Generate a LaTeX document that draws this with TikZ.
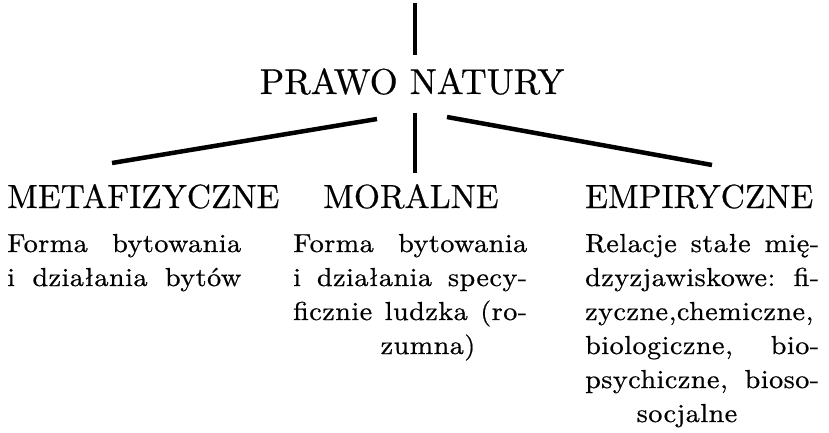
\documentclass[tikz,border=0pt]{standalone}
\usepackage{fontspec}
\setmainfont{lmroman10-regular.otf}
\newfontfamily\bodyfont{lmroman10-regular.otf}[LetterSpace=2,FakeStretch=1.08,FakeBold=0.7]
\newfontfamily\headfont{lmroman10-regular.otf}[FakeBold=0.5]
\newcommand{\jline}[1]{\makebox[234pt][s]{#1}}
\begin{document}
\begin{tikzpicture}[x=1pt,y=-1pt,
  rule/.style={line width=4.5pt},
  titlestyle/.style={font=\headfont\fontsize{36}{40}\selectfont, inner sep=0pt, anchor=base},
  head/.style={font=\headfont\fontsize{33.5}{36}\selectfont, inner sep=0pt, anchor=base west},
  body/.style={font=\bodyfont\fontsize{26}{34}\selectfont, inner sep=0pt, anchor=base west},
  bodyc/.style={font=\bodyfont\fontsize{26}{34}\selectfont, inner sep=0pt, anchor=base}]
\useasboundingbox (0,0) rectangle (829,433);
% connectors
\coordinate (t0) at (415,3);
\coordinate (t1) at (415,55);
\coordinate (c0) at (415,113);
\coordinate (c1) at (415,173);
\coordinate (l0) at (377,119);
\coordinate (l1) at (112,163);
\coordinate (r0) at (447,117);
\coordinate (r1) at (712,165);
\draw[rule] (t0) -- (t1);
\draw[rule] (c0) -- (c1);
\draw[rule] (l0) -- (l1);
\draw[rule] (r0) -- (r1);
% title
\node[titlestyle] (title) at (412,94) {PRAWO NATURY};
% headings
\node[head] (meta) at (7,208) {METAFIZYCZNE};
\node[head] (mor) at (323,208) {MORALNE};
\node[head] (emp) at (585,208) {EMPIRYCZNE};
% left column
\node[body] (a1) at (7,252) {\jline{Forma bytowania}};
\node[body] (a2) at (7,286) {\jline{i działania bytów}};
% middle column
\node[body] (b1) at (293,252) {\jline{Forma bytowania}};
\node[body] (b2) at (293,286) {\jline{i działania specy-}};
\node[body] (b3) at (293,320) {\jline{ficznie ludzka (ro-}};
\node[bodyc] (b4) at (428,354) {zumna)};
% right column
\node[body] (c1n) at (585,252) {\jline{Relacje stałe mię-}};
\node[body] (c2n) at (585,286) {\jline{dzyzjawiskowe: fi-}};
\node[body] (c3n) at (585,320) {\jline{zyczne,chemiczne,}};
\node[body] (c4n) at (585,354) {\jline{biologiczne, bio-}};
\node[body] (c5n) at (585,388) {\jline{psychiczne, bioso-}};
\node[bodyc] (c6n) at (687,422) {socjalne};
\end{tikzpicture}
\end{document}
